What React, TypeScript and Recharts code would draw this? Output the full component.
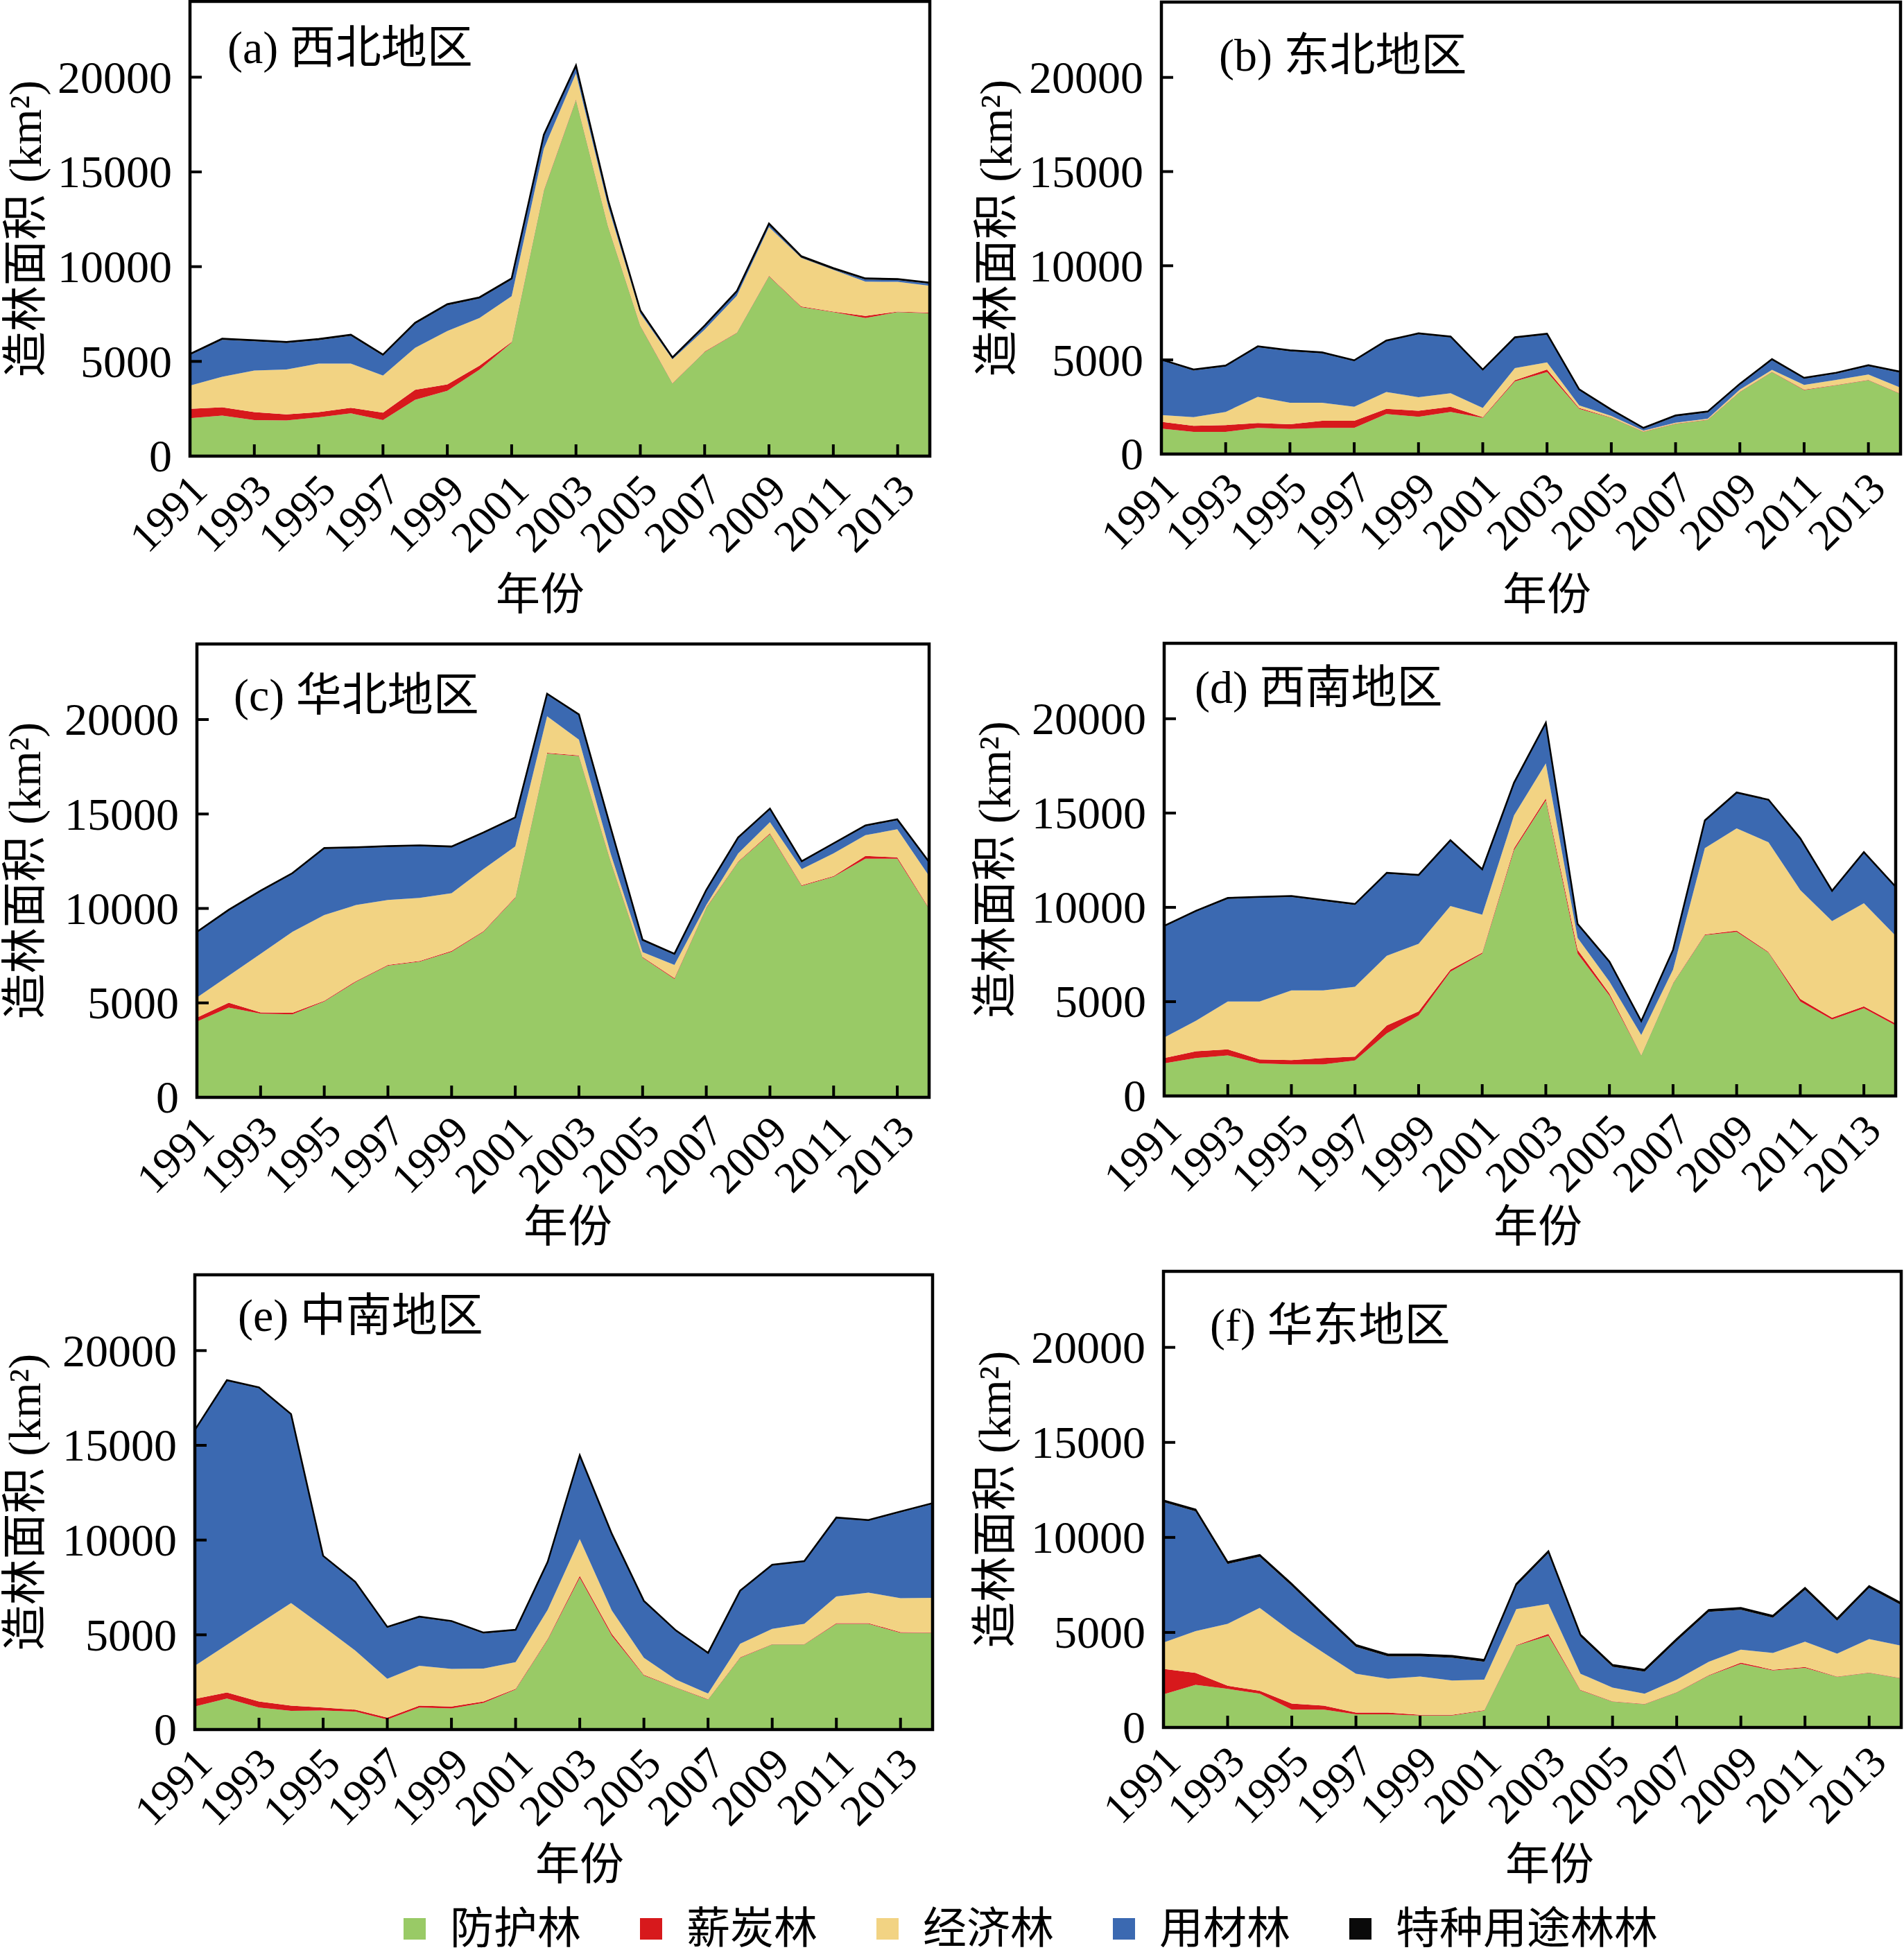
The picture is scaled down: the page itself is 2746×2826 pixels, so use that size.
import React from 'react';
import { AreaChart, Area, XAxis, YAxis, ReferenceArea } from 'recharts';

if (typeof document !== 'undefined') {
  document.body.style.margin = '0';
}

const FONT = '"Liberation Serif", "Times New Roman", "Noto Sans CJK SC", serif';

const years = [1991, 1992, 1993, 1994, 1995, 1996, 1997, 1998, 1999, 2000, 2001, 2002, 2003, 2004, 2005, 2006, 2007, 2008, 2009, 2010, 2011, 2012, 2013, 2014];
const xTicks = [1991, 1993, 1995, 1997, 1999, 2001, 2003, 2005, 2007, 2009, 2011, 2013];
const yTicks = [0, 5000, 10000, 15000, 20000];

const seriesNames = ['防护林', '薪炭林', '经济林', '用材林', '特种用途林林'];
const seriesColors = ['#99ca66', '#d7191c', '#f2d383', '#3b69b1', '#0a0a0a'];

// (a) 西北地区
const nwShelter = [2000, 2140, 1900, 1880, 2050, 2260, 1900, 2970, 3450, 4560, 5990, 14000, 18800, 12100, 6870, 3830, 5500, 6500, 9490, 7870, 7600, 7290, 7600, 7540];
const nwFuel = [500, 440, 420, 320, 270, 290, 400, 530, 340, 210, 40, 40, 30, 30, 30, 20, 20, 20, 30, 30, 30, 110, 30, 30];
const nwEcon = [1220, 1610, 2200, 2370, 2560, 2330, 1950, 2220, 2810, 2520, 2410, 2190, 1370, 1050, 630, 1260, 1160, 1940, 2570, 2560, 2200, 1810, 1570, 1420];
const nwTimber = [1610, 1950, 1540, 1400, 1240, 1470, 1050, 1260, 1360, 1030, 880, 670, 360, 260, 100, 40, 150, 190, 110, 20, 20, 110, 90, 110];
const nwSpecial = [60, 60, 60, 60, 60, 60, 60, 60, 60, 60, 60, 60, 60, 60, 60, 60, 60, 60, 80, 80, 80, 60, 60, 60];

// (b) 东北地区
const neShelter = [1350, 1180, 1180, 1390, 1330, 1390, 1390, 2130, 1980, 2240, 1920, 3860, 4350, 2400, 1920, 1180, 1600, 1810, 3290, 4350, 3400, 3650, 3920, 3190];
const neFuel = [360, 320, 360, 260, 250, 380, 380, 270, 320, 270, 40, 60, 140, 50, 20, 20, 20, 20, 20, 20, 20, 20, 20, 20];
const neEcon = [360, 460, 700, 1390, 1140, 950, 740, 890, 720, 720, 490, 640, 380, 140, 80, 40, 50, 50, 110, 100, 250, 270, 280, 310];
const neTimber = [2900, 2480, 2410, 2630, 2740, 2630, 2420, 2690, 3340, 2960, 1990, 1590, 1470, 800, 290, 100, 330, 330, 260, 520, 330, 330, 450, 800];
const neSpecial = [50, 50, 50, 50, 50, 50, 50, 50, 50, 50, 50, 50, 50, 50, 50, 50, 50, 50, 50, 50, 50, 50, 50, 50];

// (c) 华北地区
const ncShelter = [4010, 4750, 4430, 4390, 5070, 6120, 6970, 7180, 7710, 8760, 10560, 18200, 18060, 12460, 7390, 6270, 10030, 12460, 13940, 11190, 11680, 12630, 12630, 9970];
const ncFuel = [210, 260, 70, 90, 40, 40, 40, 40, 40, 40, 40, 40, 40, 40, 40, 40, 30, 30, 40, 40, 40, 150, 80, 40];
const ncEcon = [1060, 1430, 3100, 4280, 4540, 4020, 3440, 3340, 3060, 3280, 2680, 1930, 840, 380, 260, 700, 120, 420, 590, 850, 1200, 1100, 1480, 1710];
const ncTimber = [3430, 3440, 3290, 3060, 3500, 3010, 2800, 2730, 2420, 1890, 1490, 1150, 1280, 1330, 600, 540, 750, 800, 670, 370, 480, 470, 480, 690];
const ncSpecial = [50, 50, 50, 50, 50, 50, 50, 50, 50, 50, 50, 50, 50, 50, 50, 50, 50, 50, 50, 50, 50, 50, 50, 50];

// (d) 西南地区
const swShelter = [1730, 2010, 2150, 1730, 1670, 1670, 1880, 3320, 4270, 6590, 7540, 13030, 15670, 7540, 5320, 2150, 5960, 8530, 8700, 7600, 5010, 4050, 4650, 3740];
const swFuel = [280, 360, 320, 210, 230, 340, 210, 420, 210, 110, 60, 100, 110, 210, 110, 20, 30, 30, 70, 40, 140, 100, 100, 100];
const swEcon = [1090, 1620, 2540, 3070, 3700, 3590, 3700, 3690, 3590, 3370, 2010, 1750, 1850, 630, 630, 1060, 710, 4580, 5420, 5810, 5770, 5120, 5470, 4650];
const swTimber = [5870, 5780, 5440, 5500, 4950, 4740, 4340, 4350, 3600, 3440, 2360, 1680, 2110, 690, 1010, 690, 1000, 1420, 1850, 2210, 2690, 1560, 2660, 2550];
const swSpecial = [50, 50, 50, 50, 50, 50, 50, 50, 50, 50, 50, 50, 50, 50, 50, 50, 50, 50, 50, 50, 50, 50, 50, 50];

// (e) 中南地区
const csShelter = [1220, 1640, 1160, 990, 1010, 950, 530, 1160, 1120, 1410, 2110, 4740, 8010, 4950, 2850, 2210, 1580, 3790, 4490, 4490, 5580, 5580, 5100, 5100];
const csFuel = [400, 320, 320, 270, 150, 100, 100, 100, 100, 70, 40, 40, 100, 100, 40, 20, 20, 20, 20, 20, 40, 40, 40, 20];
const csEcon = [1750, 2510, 4100, 5420, 4280, 3120, 2050, 2110, 1980, 1740, 1410, 1540, 1940, 1230, 900, 400, 300, 720, 800, 1070, 1400, 1610, 1790, 1830];
const csTimber = [12390, 13920, 12430, 9920, 3680, 3580, 2690, 2540, 2480, 1850, 1660, 2480, 4380, 4000, 2950, 2550, 2100, 2750, 3340, 3260, 4120, 3780, 4530, 4950];
const csSpecial = [50, 50, 50, 50, 50, 50, 50, 50, 50, 50, 50, 50, 50, 50, 50, 50, 50, 50, 50, 50, 50, 50, 50, 50];

// (f) 华东地区
const ecShelter = [1740, 2240, 2030, 1780, 940, 940, 690, 690, 630, 630, 880, 4300, 4820, 1950, 1360, 1220, 1840, 2730, 3350, 3000, 3140, 2660, 2870, 2580];
const ecFuel = [1340, 630, 170, 150, 320, 210, 90, 90, 40, 40, 30, 30, 100, 30, 20, 20, 20, 20, 60, 40, 40, 20, 20, 20];
const ecEcon = [1390, 2200, 3250, 4360, 3770, 2770, 2050, 1780, 2010, 1800, 1610, 1900, 1580, 850, 720, 540, 660, 710, 680, 880, 1330, 1200, 1760, 1700];
const ecTimber = [7380, 6300, 3150, 2690, 2420, 1910, 1410, 1180, 1060, 1200, 940, 1220, 2670, 1950, 1090, 1160, 2030, 2620, 2100, 1850, 2730, 1740, 2690, 2140];
const ecSpecial = [100, 100, 100, 100, 100, 100, 100, 100, 100, 100, 100, 100, 100, 100, 100, 100, 100, 100, 100, 100, 100, 100, 100, 100];

const panels = [
  { key: 'a', title: '(a) 西北地区', series: [nwShelter, nwFuel, nwEcon, nwTimber, nwSpecial], box: { l: 274, t: 2, r: 1341, b: 658 }, titleX: 328, titleY: 69, yLabelX: 36, xLabelX: 779, xLabelY: 855 },
  { key: 'b', title: '(b) 东北地区', series: [neShelter, neFuel, neEcon, neTimber, neSpecial], box: { l: 1675, t: 3, r: 2741, b: 655 }, titleX: 1758, titleY: 80, yLabelX: 1436, xLabelX: 2231, xLabelY: 855 },
  { key: 'c', title: '(c) 华北地区', series: [ncShelter, ncFuel, ncEcon, ncTimber, ncSpecial], box: { l: 284, t: 929, r: 1340, b: 1583 }, titleX: 337, titleY: 1003, yLabelX: 35, xLabelX: 819, xLabelY: 1767 },
  { key: 'd', title: '(d) 西南地区', series: [swShelter, swFuel, swEcon, swTimber, swSpecial], box: { l: 1679, t: 928, r: 2734, b: 1581 }, titleX: 1723, titleY: 992, yLabelX: 1434, xLabelX: 2218, xLabelY: 1767 },
  { key: 'e', title: '(e) 中南地区', series: [csShelter, csFuel, csEcon, csTimber, csSpecial], box: { l: 281, t: 1839, r: 1345, b: 2495 }, titleX: 343, titleY: 1898, yLabelX: 35, xLabelX: 836, xLabelY: 2687 },
  { key: 'f', title: '(f) 华东地区', series: [ecShelter, ecFuel, ecEcon, ecTimber, ecSpecial], box: { l: 1678, t: 1834, r: 2742, b: 2492 }, titleX: 1745, titleY: 1912, yLabelX: 1434, xLabelX: 2235, xLabelY: 2687 },
];

const AXIS_W = 330;
const XAXIS_H = 250;
const TOP_M = 20;
const RIGHT_M = 4;

const XTick = (props: any) => {
  const { x, y, payload } = props;
  return (
    <g>
      <line x1={x} y1={y} x2={x} y2={y - 17} stroke="#000" strokeWidth={4} />
      <text
        x={x + 28}
        y={y + 53}
        textAnchor="end"
        transform={`rotate(-45, ${x + 28}, ${y + 53})`}
        fontSize={63}
        fontFamily={FONT}
        fill="#000"
      >
        {payload.value}
      </text>
    </g>
  );
};

const YTick = (props: any) => {
  const { x, y, payload } = props;
  return (
    <g>
      <line x1={x} y1={y} x2={x + 17} y2={y} stroke="#000" strokeWidth={4} />
      <text x={x - 26} y={y} dy="0.34em" textAnchor="end" fontSize={66} fontFamily={FONT} fill="#000">
        {payload.value}
      </text>
    </g>
  );
};

function Panel({ p }: { p: (typeof panels)[number] }) {
  const { box } = p;
  const chartLeft = box.l - AXIS_W;
  const chartTop = box.t - TOP_M;
  const width = box.r - chartLeft + RIGHT_M;
  const height = box.b - chartTop + XAXIS_H;
  const rows = years.map((yr, i) => {
    const row: Record<string, number> = { year: yr };
    p.series.forEach((s, k) => {
      row['s' + k] = s[i];
    });
    return row;
  });
  const xBaseline = p.xLabelY - box.b + 24;
  return (
    <>
      <div style={{ position: 'absolute', left: chartLeft, top: chartTop }}>
        <AreaChart width={width} height={height} data={rows} margin={{ top: TOP_M, right: RIGHT_M, left: 0, bottom: 0 }}>
          <XAxis
            dataKey="year"
            type="number"
            domain={[1991, 2014]}
            ticks={xTicks}
            interval={0}
            height={XAXIS_H}
            tick={XTick}
            tickLine={false}
            axisLine={false}
            tickSize={0}
            tickMargin={0}
            label={{
              value: '年份',
              position: 'insideBottom',
              offset: XAXIS_H - xBaseline,
              dx: p.xLabelX - (box.l + box.r) / 2,
              fontSize: 64,
              fill: '#000',
              fontFamily: FONT,
            }}
          />
          <YAxis
            type="number"
            domain={[0, 24000]}
            ticks={yTicks}
            interval={0}
            width={AXIS_W}
            tick={YTick}
            tickLine={false}
            axisLine={false}
            tickSize={0}
            tickMargin={0}
            label={{
              value: '造林面积 (km²)',
              angle: -90,
              position: 'insideLeft',
              offset: p.yLabelX - chartLeft,
              textAnchor: 'middle',
              fontSize: 66,
              fill: '#000',
              fontFamily: FONT,
            }}
          />
          {seriesNames.map((name, k) => (
            <Area
              key={name}
              type="linear"
              dataKey={'s' + k}
              name={name}
              stackId="1"
              stroke={k === 4 ? '#000' : 'none'}
              strokeWidth={k === 4 ? 2.5 : 0}
              fill={seriesColors[k]}
              fillOpacity={1}
              dot={false}
              activeDot={false}
              isAnimationActive={false}
            />
          ))}
          <ReferenceArea x1={1991} x2={2014} y1={0} y2={24000} fill="none" fillOpacity={0} stroke="#000" strokeWidth={4.5} ifOverflow="visible" />
        </AreaChart>
      </div>
      <div
        style={{
          position: 'absolute',
          left: p.titleX,
          top: p.titleY - 40,
          height: 80,
          lineHeight: '80px',
          fontSize: 66,
          fontFamily: FONT,
          whiteSpace: 'nowrap',
          color: '#000',
        }}
      >
        {p.title}
      </div>
    </>
  );
}

export default function App() {
  return (
    <div style={{ position: 'relative', width: 2746, height: 2826, background: '#fff', overflow: 'hidden', fontFamily: FONT }}>
      {panels.map((p) => (
        <Panel key={p.key} p={p} />
      ))}
      {seriesNames.map((name, k) => (
        <div
          key={name}
          style={{
            position: 'absolute',
            left: 582 + k * 341,
            top: 2754,
            height: 56,
            display: 'flex',
            alignItems: 'center',
            whiteSpace: 'nowrap',
          }}
        >
          <div style={{ width: 32, height: 31, background: seriesColors[k], marginRight: 35 }} />
          <span style={{ fontSize: 63, lineHeight: '56px', fontFamily: FONT, color: '#000' }}>{name}</span>
        </div>
      ))}
    </div>
  );
}
